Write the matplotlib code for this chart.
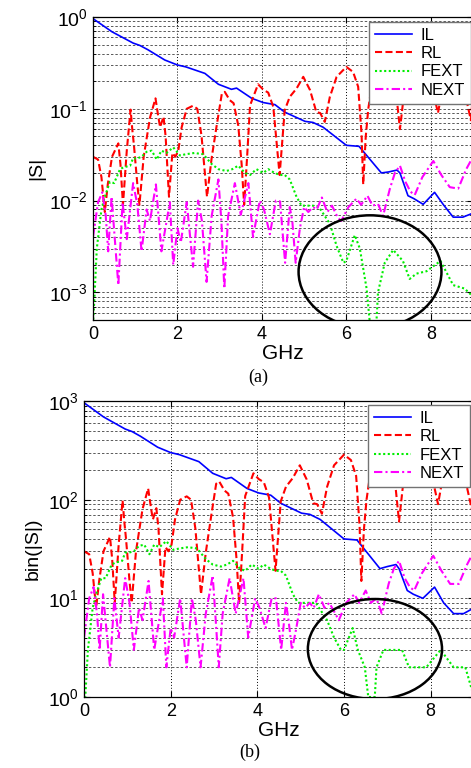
import numpy as np
import matplotlib
matplotlib.use("Agg")
import matplotlib.pyplot as plt
from matplotlib.patches import Ellipse
from matplotlib.ticker import LogLocator, NullFormatter, FixedLocator

plt.rcParams['font.family'] = ['Liberation Sans', 'DejaVu Sans']
plt.rcParams['mathtext.default'] = 'regular'

# ---- frequency vertices (GHz) and magnitudes ----
il_f = [0, 0.45, 0.95, 1.11, 1.3, 1.7, 2.0, 2.2, 2.65, 2.97, 3.28, 3.4, 3.76, 4.03,
        4.31, 4.54, 5.02, 5.21, 5.45, 6.0, 6.3, 6.83, 7.0, 7.2, 7.27, 7.46, 7.6,
        7.82, 8.09, 8.3, 8.53, 8.76, 9.0]
il_s = [0.96, 0.69, 0.52, 0.49, 0.44, 0.34, 0.30, 0.286, 0.243, 0.185, 0.163, 0.168,
        0.13, 0.117, 0.111, 0.092, 0.073, 0.071, 0.063, 0.040, 0.039, 0.020, 0.0205,
        0.0215, 0.020, 0.0113, 0.0105, 0.0091, 0.0123, 0.009, 0.0066, 0.0066, 0.0073]
il_bin = [960, 690, 520, 490, 440, 340, 300, 286, 243, 185, 163, 168, 130, 117, 111,
          92, 73, 71, 63, 40, 39, 20, 21, 22, 20, 12, 11, 10, 13, 9, 7, 7, 8]

rl_f = [0, 0.12, 0.2, 0.28, 0.35, 0.45, 0.60, 0.65, 0.71, 0.80, 0.89, 0.93, 0.97,
        1.05, 1.10, 1.2, 1.35, 1.48, 1.55, 1.59, 1.67, 1.72, 1.80, 1.88, 1.95, 2.02,
        2.10, 2.22, 2.37, 2.47, 2.57, 2.70, 2.81, 2.93, 3.05, 3.12, 3.24, 3.33, 3.44,
        3.52, 3.58, 3.65, 3.72, 3.91, 4.03, 4.15, 4.27, 4.42, 4.54, 4.66, 4.82, 4.98,
        5.14, 5.29, 5.38, 5.49, 5.61, 5.77, 6.00, 6.16, 6.28, 6.36, 6.40, 6.46, 6.52,
        6.65, 6.9, 7.15, 7.27, 7.4, 7.7, 8.0, 8.17, 8.35, 8.7, 8.95, 9.0]
rl_s = [0.030, 0.028, 0.018, 0.0075, 0.015, 0.030, 0.042, 0.025, 0.009, 0.035, 0.098,
        0.06, 0.04, 0.015, 0.009, 0.03, 0.08, 0.13, 0.08, 0.063, 0.082, 0.05, 0.011,
        0.033, 0.030, 0.035, 0.063, 0.100, 0.108, 0.100, 0.051, 0.011, 0.029, 0.066,
        0.145, 0.153, 0.124, 0.115, 0.066, 0.025, 0.009, 0.03, 0.109, 0.185, 0.162,
        0.150, 0.105, 0.019, 0.096, 0.135, 0.166, 0.223, 0.160, 0.092, 0.090, 0.072,
        0.135, 0.223, 0.286, 0.252, 0.174, 0.054, 0.015, 0.05, 0.10, 0.25, 0.3, 0.2,
        0.06, 0.2, 0.3, 0.2, 0.09, 0.25, 0.25, 0.075, 0.15]
rl_bin = [30, 28, 18, 8, 15, 30, 42, 25, 9, 35, 98, 60, 40, 15, 9, 30, 80, 130, 80, 63,
          82, 50, 11, 33, 30, 35, 63, 100, 108, 100, 51, 11, 29, 66, 145, 153, 124, 115,
          66, 25, 9, 30, 109, 185, 162, 150, 105, 19, 96, 135, 166, 223, 160, 92, 90,
          72, 135, 223, 286, 252, 174, 54, 15, 50, 100, 250, 300, 200, 60, 200, 300,
          200, 90, 250, 250, 80, 150]

fext_f = [0, 0.03, 0.09, 0.2, 0.28, 0.40, 0.5, 0.64, 0.72, 0.88, 0.95, 1.03, 1.15,
          1.27, 1.39, 1.51, 1.62, 1.74, 1.90, 2.06, 2.2, 2.4, 2.61, 2.81, 2.97, 3.16,
          3.30, 3.44, 3.60, 3.72, 3.87, 4.03, 4.15, 4.30, 4.43, 4.54, 4.66, 4.82, 4.94,
          5.21, 5.35, 5.61, 5.77, 5.93, 6.00, 6.20, 6.32, 6.48, 6.56, 6.71, 6.75, 6.91,
          7.11, 7.34, 7.50, 7.66, 7.9, 8.23, 8.53, 8.8, 9.0]
fext_s = [0.00045, 0.0008, 0.003, 0.008, 0.011, 0.016, 0.0155, 0.022, 0.023, 0.024,
          0.029, 0.0286, 0.030, 0.034, 0.035, 0.028, 0.035, 0.033, 0.038, 0.031, 0.032,
          0.033, 0.032, 0.025, 0.022, 0.021, 0.022, 0.024, 0.020, 0.019, 0.022, 0.020,
          0.022, 0.020, 0.019, 0.019, 0.017, 0.011, 0.0088, 0.0088, 0.0085, 0.0056,
          0.0032, 0.0021, 0.0022, 0.0042, 0.0030, 0.0011, 0.00045, 0.00045, 0.0010,
          0.0021, 0.0029, 0.0022, 0.0014, 0.0016, 0.0017, 0.0022, 0.0012, 0.0011, 0.0009]
fext_bin = [1, 1, 3, 8, 11, 16, 16, 22, 23, 24, 29, 29, 30, 34, 35, 28, 35, 33, 38, 31,
            32, 33, 32, 25, 22, 21, 22, 24, 20, 19, 22, 20, 22, 20, 19, 19, 17, 11, 9, 9,
            9, 6, 4, 3, 3, 5, 3, 2, 1, 1, 2, 3, 3, 3, 2, 2, 2, 3, 2, 2, 1]

next_f = [0, 0.12, 0.22, 0.30, 0.36, 0.44, 0.60, 0.70, 0.80, 0.95, 1.05, 1.15, 1.27,
          1.35, 1.49, 1.62, 1.82, 1.90, 2.0, 2.08, 2.22, 2.37, 2.49, 2.58, 2.69, 2.81,
          2.97, 3.04, 3.11, 3.20, 3.36, 3.5, 3.68, 3.79, 3.95, 4.05, 4.19, 4.33, 4.43,
          4.55, 4.66, 4.72, 4.80, 4.90, 5.0, 5.1, 5.21, 5.30, 5.42, 5.55, 5.66, 5.80,
          5.88, 6.05, 6.24, 6.35, 6.50, 6.62, 6.75, 6.87, 7.03, 7.15, 7.27, 7.40, 7.52,
          7.62, 7.80, 8.06, 8.25, 8.45, 8.65, 8.84, 9.0]
next_s = [0.004, 0.0096, 0.0123, 0.007, 0.0028, 0.011, 0.0012, 0.0095, 0.0038, 0.0155,
          0.009, 0.0028, 0.008, 0.006, 0.015, 0.0028, 0.0096, 0.002, 0.005, 0.0035,
          0.0096, 0.0019, 0.0100, 0.006, 0.0013, 0.0068, 0.0170, 0.006, 0.0011, 0.0068,
          0.0155, 0.007, 0.0155, 0.0040, 0.0100, 0.008, 0.0043, 0.0100, 0.0098, 0.0021,
          0.0085, 0.006, 0.0021, 0.0050, 0.0085, 0.0075, 0.0085, 0.0080, 0.0108, 0.0075,
          0.0088, 0.0065, 0.0060, 0.0085, 0.0105, 0.0090, 0.0113, 0.0088, 0.0092, 0.0068,
          0.0134, 0.020, 0.024, 0.016, 0.0125, 0.0115, 0.018, 0.027, 0.019, 0.014,
          0.0135, 0.022, 0.030]
next_bin = [4, 10, 13, 7, 3, 11, 2, 10, 4, 16, 9, 3, 8, 6, 15, 3, 10, 2, 5, 4, 10, 2,
            10, 6, 2, 7, 17, 6, 2, 7, 16, 7, 16, 4, 10, 8, 5, 10, 10, 3, 9, 6, 3, 5, 9,
            8, 9, 8, 11, 8, 9, 7, 6, 9, 11, 9, 12, 9, 10, 7, 14, 20, 24, 16, 13, 12, 18,
            27, 19, 14, 14, 22, 30]

labels = ['IL', 'RL', 'FEXT', 'NEXT']
styles = [dict(color='#0000ff', ls='-', lw=1.2),
          dict(color='#ff0000', ls=(0, (3.4, 1.6)), lw=1.5),
          dict(color='#00ee00', ls=(0, (1, 1.2)), lw=1.5),
          dict(color='#ff00ff', ls=(0, (4, 1.5, 1, 1.5)), lw=1.5)]

fig = plt.figure(figsize=(4.71, 7.68), dpi=100)
ax1 = fig.add_axes([93 / 471, 448 / 768, 380 / 471, 303 / 768])
ax2 = fig.add_axes([84 / 471, 71 / 768, 390 / 471, 296 / 768])


def style_axes(ax, ylim, ylabel):
    ax.set_yscale('log')
    ax.set_xlim(0, 9)
    ax.set_ylim(*ylim)
    ax.xaxis.set_major_locator(FixedLocator([0, 2, 4, 6, 8]))
    ax.yaxis.set_major_locator(LogLocator(base=10, numticks=10))
    ax.yaxis.set_minor_locator(LogLocator(base=10, subs=np.arange(2, 10), numticks=10))
    ax.yaxis.set_minor_formatter(NullFormatter())
    ax.tick_params(which='both', direction='in', top=True, right=True, pad=4)
    ax.tick_params(axis='x', labelsize=13)
    ax.tick_params(axis='y', labelsize=14)
    ax.tick_params(which='major', length=4)
    ax.tick_params(which='minor', length=2)
    ax.grid(True, which='major', axis='x', color='black', ls=(0, (1, 2)), lw=0.7)
    ax.grid(True, which='both', axis='y', color='0.35', ls=(0, (2.5, 2)), lw=0.7)
    for sp in ax.spines.values():
        sp.set_linewidth(0.9)
    ax.set_xlabel('GHz', fontsize=15, labelpad=1)
    ax.set_ylabel(ylabel, fontsize=14)


# (a) raw magnitudes
series_a = [(il_f, il_s), (rl_f, rl_s), (fext_f, fext_s), (next_f, next_s)]
for (f, s), lab, st in zip(series_a, labels, styles):
    ax1.plot(f, s, label=lab, **st)
style_axes(ax1, (5e-4, 1), '|S|')
ax1.yaxis.set_label_coords(-0.126, 0.5)

# (b) binned magnitudes
series_b = [(il_f, il_bin), (rl_f, rl_bin), (fext_f, fext_bin), (next_f, next_bin)]
for (f, s), lab, st in zip(series_b, labels, styles):
    ax2.plot(f, s, label=lab, **st)
style_axes(ax2, (1, 1000), 'bin(|S|)')
ax2.yaxis.set_label_coords(-0.108, 0.5)

for ax, anchor in ((ax1, (378 / 380, 298 / 303)), (ax2, (386 / 390, 292 / 296))):
    leg = ax.legend(loc='upper right', bbox_to_anchor=anchor, borderaxespad=0,
                    fontsize=12, handlelength=2.2, labelspacing=0.2,
                    handletextpad=0.55, borderpad=0.35, fancybox=False,
                    framealpha=1, edgecolor='0.45')
    leg.get_frame().set_linewidth(1.0)

ax1.add_patch(Ellipse((0.729, 0.159), 0.376, 0.373, transform=ax1.transAxes,
                      fill=False, ec='black', lw=1.8, zorder=5))
ax2.add_patch(Ellipse((0.746, 0.162), 0.344, 0.338, transform=ax2.transAxes,
                      fill=False, ec='black', lw=1.8, zorder=5))

fig.text(258 / 471, 1 - 377 / 768, '(a)', ha='center', va='center',
         fontsize=13, family='Liberation Serif')
fig.text(250 / 471, 1 - 752 / 768, '(b)', ha='center', va='center',
         fontsize=13, family='Liberation Serif')

fig.savefig('out.png', dpi=100)
